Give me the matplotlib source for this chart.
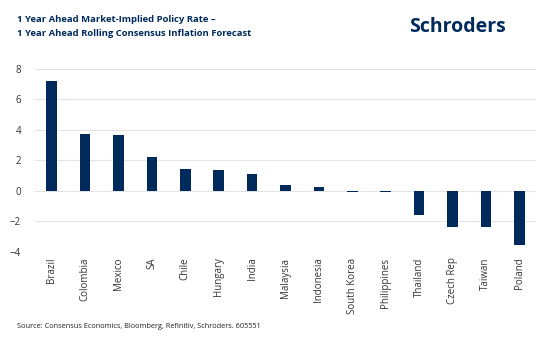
import numpy as np
import matplotlib.pyplot as plt

plt.rcParams['font.family'] = ['Open Sans', 'DejaVu Sans']

countries = ['Brazil', 'Colombia', 'Mexico', 'SA', 'Chile', 'Hungary', 'India',
             'Malaysia', 'Indonesia', 'South Korea', 'Philippines', 'Thailand',
             'Czech Rep', 'Taiwan', 'Poland']
values = [7.2, 3.76, 3.65, 2.25, 1.42, 1.36, 1.1, 0.39, 0.26, -0.05, -0.08,
          -1.57, -2.38, -2.38, -3.54]

navy = '#002A5C'

fig = plt.figure(figsize=(5.54, 3.53), dpi=100)
ax = fig.add_axes([35 / 554, 1 - 252 / 353, 501 / 554, 183 / 353])

x = np.arange(len(countries))
ax.bar(x, values, width=0.32, color=navy, zorder=3)

ax.set_ylim(-4, 8)
ax.set_yticks(range(-4, 9, 2))
ax.set_xlim(-0.5, len(countries) - 0.5)
ax.set_xticks(x)
ax.set_xticklabels(countries, rotation=90, fontsize=7, color='#333333')
ax.tick_params(axis='y', labelsize=7, colors='#333333', length=0, pad=10)
ax.tick_params(axis='x', length=0, pad=4)
ax.grid(axis='y', color='#e3e3e3', linewidth=0.8, zorder=0)
for s in ax.spines.values():
    s.set_visible(False)

fig.text(17 / 554, 1 - 20 / 353, '1 Year Ahead Market-Implied Policy Rate \u2013',
         fontsize=6.8, fontweight='bold', color=navy, va='center')
fig.text(17 / 554, 1 - 33 / 353, '1 Year Ahead Rolling Consensus Inflation Forecast',
         fontsize=6.8, fontweight='bold', color=navy, va='center')
fig.text(506 / 554, 1 - 27 / 353, 'Schroders', fontsize=14, fontweight='bold',
         color=navy, ha='right', va='center')
fig.text(17 / 554, 1 - 327 / 353,
         'Source: Consensus Economics, Bloomberg, Refinitiv, Schroders. 605551',
         fontsize=5.3, color='#222222', va='center')

fig.savefig('out.png', dpi=100)
